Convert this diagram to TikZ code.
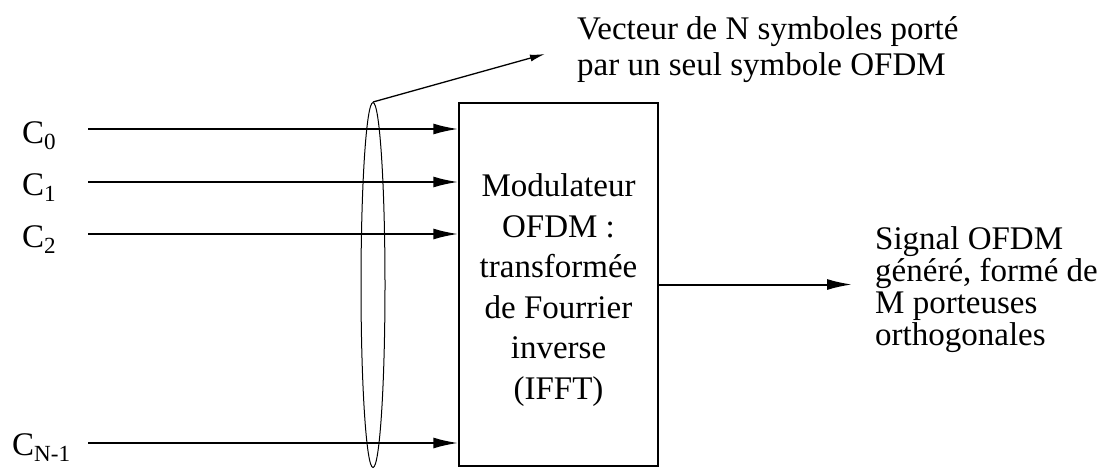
\documentclass[tikz,border=0pt]{standalone}
\usepackage{fontspec}
\setmainfont{Liberation Serif}
\usetikzlibrary{arrows.meta,shapes.geometric}
\begin{document}
\begin{tikzpicture}[x=1pt,y=-1pt,
  txt/.style={inner sep=0pt, align=left},
  lbl/.style={inner sep=0pt, font=\fontsize{33}{36}\selectfont},
  arr/.style={line width=2pt, -{Latex[length=25pt,width=11pt]}},
  thinarr/.style={line width=1.3pt, -{Latex[length=15pt,width=7pt]}},
  modbox/.style={draw, line width=1.5pt, minimum width=199pt, minimum height=363pt,
    inner sep=0pt},
  boxtext/.style={inner sep=0pt, align=center, font=\fontsize{33}{40.5}\selectfont},
  grpell/.style={draw, ellipse, line width=1pt, minimum width=24pt,
    minimum height=365pt, inner sep=0pt}]
\useasboundingbox (0,0) rectangle (1103,471);
\fill[white] (0,0) rectangle (1103,471);

\node[modbox] (box) at (558.5,284.5) {};
\node[boxtext] (boxtxt) at (558.5,290) {Modulateur\\OFDM :\\transformée\\de Fourrier\\inverse\\(IFFT)};

\node[lbl, anchor=base west] (c0) at (22,143) {C\textsubscript{0}};
\node[lbl, anchor=base west] (c1) at (22,195) {C\textsubscript{1}};
\node[lbl, anchor=base west] (c2) at (22,247) {C\textsubscript{2}};
\node[lbl, anchor=base west] (c3) at (12,455) {C\textsubscript{N-1}};

\coordinate (a0) at (88,129);
\coordinate (a1) at (88,182);
\coordinate (a2) at (88,234);
\coordinate (a3) at (88,443);
\draw[arr] (a0) -- (a0 -| box.west);
\draw[arr] (a1) -- (a1 -| box.west);
\draw[arr] (a2) -- (a2 -| box.west);
\draw[arr] (a3) -- (a3 -| box.west);

\node[grpell] (grp) at (373,285) {};
\coordinate (vt) at (545,54);
\draw[thinarr] (grp.north) -- (vt);

\node[txt, anchor=west, font=\fontsize{33}{36}\selectfont] (vec) at (577,50)
  {Vecteur de N symboles porté\\par un seul symbole OFDM};

\node[txt, anchor=west, font=\fontsize{33}{32}\selectfont] (sig) at (875,290)
  {Signal OFDM\\généré, formé de\\M porteuses\\orthogonales};

\draw[arr, shorten >=23pt] (box.east) -- (box.east -| sig.west);
\end{tikzpicture}
\end{document}
